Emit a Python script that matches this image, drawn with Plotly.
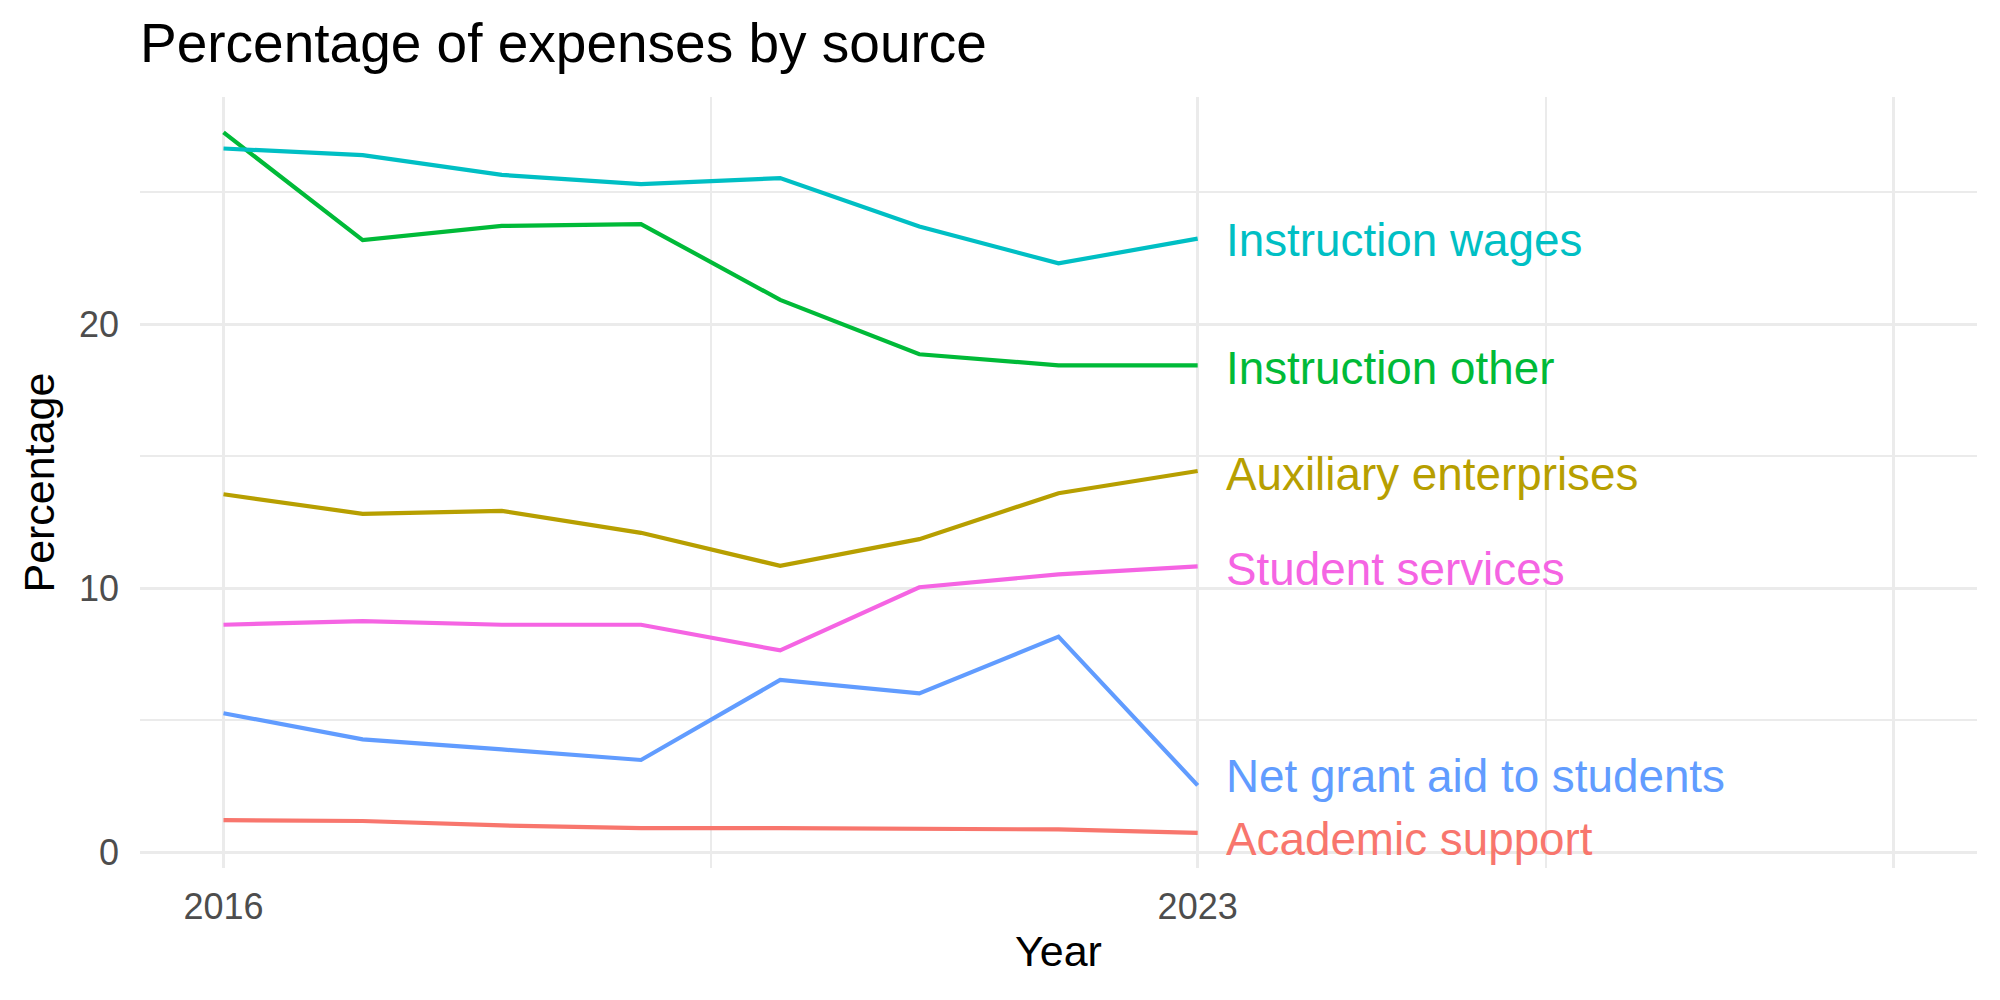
import plotly.graph_objects as go

years = [2016, 2017, 2018, 2019, 2020, 2021, 2022, 2023]
series_names = ["Academic support", "Auxiliary enterprises", "Instruction other",
                "Instruction wages", "Net grant aid to students", "Student services"]
academic_support = [1.22, 1.19, 1.02, 0.92, 0.92, 0.91, 0.87, 0.74]
auxiliary_enterprises = [13.56, 12.82, 12.93, 12.10, 10.85, 11.86, 13.60, 14.44]
instruction_other = [27.26, 23.18, 23.72, 23.79, 20.92, 18.86, 18.44, 18.44]
instruction_wages = [26.65, 26.40, 25.65, 25.30, 25.53, 23.70, 22.30, 23.24]
net_grant_aid = [5.27, 4.28, 3.90, 3.50, 6.53, 6.02, 8.17, 2.54]
student_services = [8.62, 8.76, 8.62, 8.62, 7.65, 10.04, 10.53, 10.83]
series_values = [academic_support, auxiliary_enterprises, instruction_other,
                 instruction_wages, net_grant_aid, student_services]
colors = ["#F8766D", "#B79F00", "#00BA38", "#00BFC4", "#619CFF", "#F564E3"]
# small vertical nudges (px) so end labels do not collide, like a repel layout
label_nudge = [-7, -3, -3, -2, 9, -3]

x_tickvals = [2016, 2023, 2028]
x_ticktext = ["2016", "2023", ""]
x_minor = [2019.5, 2025.5]
y_tickvals = [0, 10, 20]
y_ticktext = ["0", "10", "20"]
y_minor = [5, 15, 25]

FONT = "Liberation Sans, Arial, Helvetica, sans-serif"

fig = go.Figure()
for name, vals, col, nudge in zip(series_names, series_values, colors, label_nudge):
    fig.add_trace(go.Scatter(x=years, y=vals, mode="lines", name=name,
                             line=dict(color=col, width=4.2), showlegend=False))
    fig.add_annotation(x=years[-1], y=vals[-1], xref="x", yref="y", text=name,
                       showarrow=False, xanchor="left", yanchor="middle", xshift=26,
                       yshift=nudge,
                       font=dict(family=FONT, size=45.8, color=col))

grid_major = "#EBEBEB"
fig.update_layout(
    width=2000, height=1000,
    margin=dict(l=140, r=23, t=97, b=132),
    plot_bgcolor="white", paper_bgcolor="white",
    title=dict(text="Percentage of expenses by source", x=0.07, xref="container",
               xanchor="left", y=0.957, yref="container", yanchor="middle",
               font=dict(family=FONT, size=55, color="black")),
    xaxis=dict(range=[2015.4, 2028.6], tickmode="array", tickvals=x_tickvals,
               ticktext=x_ticktext, showgrid=True, gridcolor=grid_major, gridwidth=3.4,
               zeroline=False, showline=False, ticks="", ticklabelstandoff=14,
               tickfont=dict(family=FONT, size=36, color="#4D4D4D"),
               minor=dict(tickmode="array", tickvals=x_minor, showgrid=True,
                          gridcolor=grid_major, gridwidth=1.7)),
    yaxis=dict(range=[-0.59, 28.6], tickmode="array", tickvals=y_tickvals,
               ticktext=y_ticktext, showgrid=True, gridcolor=grid_major, gridwidth=3.4,
               zeroline=False, showline=False, ticks="", ticklabelstandoff=20,
               tickfont=dict(family=FONT, size=36, color="#4D4D4D"),
               minor=dict(tickmode="array", tickvals=y_minor, showgrid=True,
                          gridcolor=grid_major, gridwidth=1.7)),
)
fig.add_annotation(text="Year", xref="paper", yref="paper", x=0.5, y=-0.1077,
                   showarrow=False, xanchor="center", yanchor="middle",
                   font=dict(family=FONT, size=43, color="black"))
fig.add_annotation(text="Percentage", xref="paper", yref="paper", x=-0.0555, y=0.5,
                   showarrow=False, xanchor="center", yanchor="middle", textangle=-90,
                   font=dict(family=FONT, size=43, color="black"))

fig.write_html("out.html")
